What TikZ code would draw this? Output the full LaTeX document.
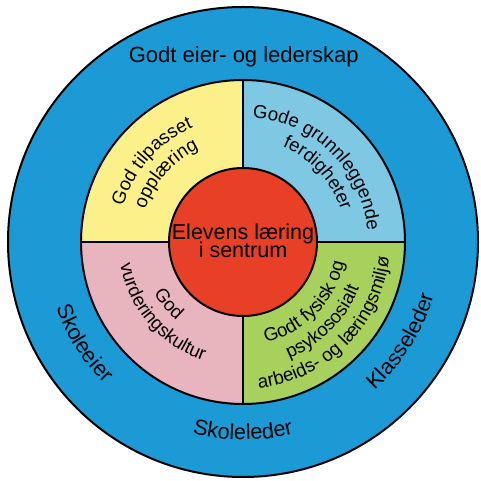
\documentclass[tikz,border=0pt]{standalone}
\usepackage{fontspec}
\setmainfont{Liberation Sans}
\usetikzlibrary{decorations.text}
\definecolor{outerblue}{RGB}{27,154,214}
\definecolor{qyellow}{RGB}{251,240,138}
\definecolor{qblue}{RGB}{126,200,227}
\definecolor{qpink}{RGB}{232,180,190}
\definecolor{qgreen}{RGB}{168,208,92}
\definecolor{cred}{RGB}{232,64,38}
\newcommand\ringfont{\fontsize{18.7}{18.7}\selectfont}
\newcommand\outfont{\fontsize{21.7}{21.7}\selectfont}
\begin{document}
\begin{tikzpicture}[line width=2pt,
  ringtext/.style={decorate, decoration={text along path, text align=center, text={#1}}},
  plain/.style={inner sep=0pt, anchor=base}]
\path[fill=white] (-243pt,-239pt) rectangle (237pt,242pt);
\useasboundingbox (-243pt,-239pt) rectangle (237pt,242pt);
% outer ring
\draw[fill=outerblue] (0,0) circle[radius=235pt];
% quadrants
\fill[qblue]   (0,0) -- (0:162pt)   arc[start angle=0,   end angle=90,  radius=162pt] -- cycle;
\fill[qyellow] (0,0) -- (90:162pt)  arc[start angle=90,  end angle=180, radius=162pt] -- cycle;
\fill[qpink]   (0,0) -- (180:162pt) arc[start angle=180, end angle=270, radius=162pt] -- cycle;
\fill[qgreen]  (0,0) -- (270:162pt) arc[start angle=270, end angle=360, radius=162pt] -- cycle;
\draw (0,0) circle[radius=162pt];
\draw (-162pt,0) -- (162pt,0);
\draw (0,-162pt) -- (0,162pt);
% centre
\draw[fill=cred] (0,0) circle[radius=74pt];
\node[plain, font=\fontsize{21.5}{21.5}\selectfont] (c1) at (0pt,2pt) {Elevens læring};
\node[plain, font=\fontsize{21.5}{21.5}\selectfont] (c2) at (0pt,-15.3pt) {i sentrum};
% outer texts
\node[plain, font=\fontsize{22}{22}\selectfont] (top) at (0.8pt,179.7pt) {Godt eier- og lederskap};
\path[ringtext={|\outfont|Skoleeier}] (172.5:198pt) arc[start angle=172.5, end angle=252.5, radius=198pt];
\path[ringtext={|\outfont|Skoleleder}] (225:198pt) arc[start angle=225, end angle=315, radius=198pt];
\path[ringtext={|\outfont|Klasseleder}] (283:198pt) arc[start angle=283, end angle=373, radius=198pt];
% yellow
\path[ringtext={|\ringfont|God tilpasset}] (188.5:125pt) arc[start angle=188.5, end angle=88.5, radius=125pt];
\path[ringtext={|\ringfont|opplæring}] (188.5:103pt) arc[start angle=188.5, end angle=88.5, radius=103pt];
% light blue
\path[ringtext={|\ringfont|Gode grunnleggende}] (95.4:125pt) arc[start angle=95.4, end angle=-4.6, radius=125pt];
\path[ringtext={|\ringfont|ferdigheter}] (92.5:103pt) arc[start angle=92.5, end angle=-7.5, radius=103pt];
% pink
\path[ringtext={|\ringfont|God}] (170:103pt) arc[start angle=170, end angle=270, radius=103pt];
\path[ringtext={|\ringfont|vurderingskultur}] (171:125pt) arc[start angle=171, end angle=271, radius=125pt];
% green
\path[ringtext={|\ringfont|Godt fysisk og}] (265.7:103pt) arc[start angle=265.7, end angle=365.7, radius=103pt];
\path[ringtext={|\ringfont|psykososialt}] (265:125pt) arc[start angle=265, end angle=365, radius=125pt];
\path[ringtext={|\ringfont|arbeids- og læringsmiljø}] (265:147pt) arc[start angle=265, end angle=365, radius=147pt];
\end{tikzpicture}
\end{document}
